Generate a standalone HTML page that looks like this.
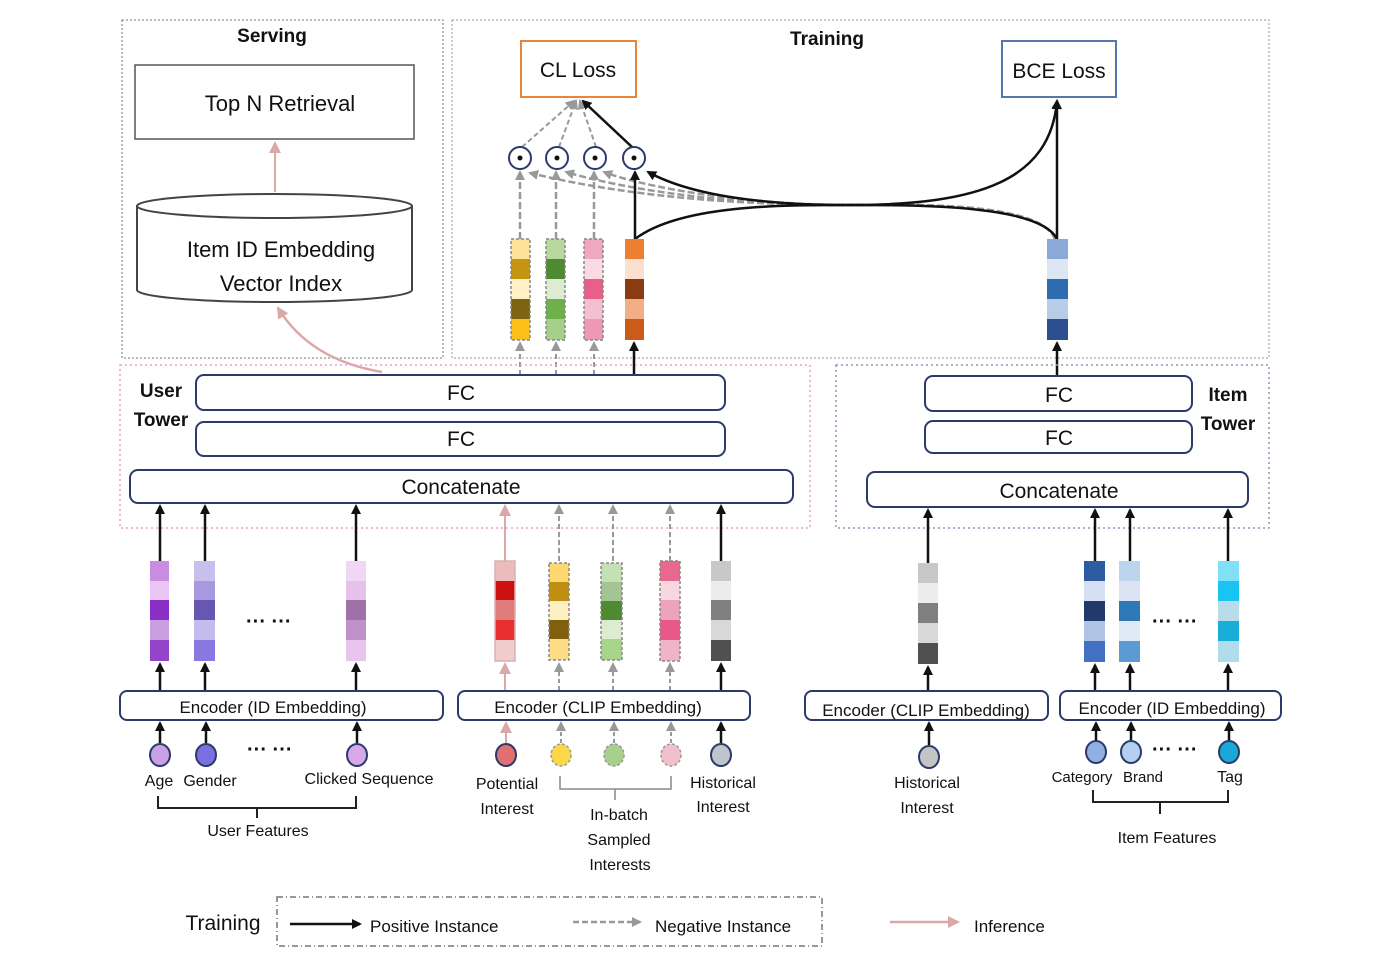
<!DOCTYPE html>
<html><head><meta charset="utf-8"><style>
body{margin:0;background:#fff}
svg{display:block}
text{font-family:"Liberation Sans",sans-serif;fill:#111}
</style></head><body>
<svg width="1394" height="972" viewBox="0 0 1394 972" xmlns="http://www.w3.org/2000/svg">
<defs>
<marker id="ab" markerWidth="10" markerHeight="10" refX="8" refY="5" orient="auto" markerUnits="userSpaceOnUse"><path d="M0,0 L10,5 L0,10 Z" fill="#111"/></marker>
<marker id="ag" markerWidth="10" markerHeight="10" refX="8" refY="5" orient="auto" markerUnits="userSpaceOnUse"><path d="M0,0 L10,5 L0,10 Z" fill="#999"/></marker>
<marker id="ap" markerWidth="12" markerHeight="12" refX="10" refY="6" orient="auto" markerUnits="userSpaceOnUse"><path d="M0,0 L12,6 L0,12 Z" fill="#dba8a8"/></marker>
</defs>

<rect x="122" y="20" width="321" height="338" fill="none" stroke="#777" stroke-dasharray="2,2"/>
<rect x="452" y="20" width="817" height="338" fill="none" stroke="#999" stroke-dasharray="2,2"/>
<text x="272" y="42" font-size="19" font-weight="bold" text-anchor="middle">Serving</text>
<text x="827" y="45" font-size="19" font-weight="bold" text-anchor="middle">Training</text>

<rect x="135" y="65" width="279" height="74" fill="#fff" stroke="#555" stroke-width="1.5"/>
<text x="280" y="111" font-size="22" text-anchor="middle">Top N Retrieval</text>
<line x1="275" y1="192" x2="275" y2="143" stroke="#dba8a8" stroke-width="2" marker-end="url(#ap)"/>

<path d="M137,206 L137,290 A137,12 0 0 0 412,290 L412,206" fill="#fff" stroke="#444" stroke-width="2"/>
<ellipse cx="274.5" cy="206" rx="137.5" ry="12" fill="#fff" stroke="#444" stroke-width="2"/>
<text x="281" y="257" font-size="22" text-anchor="middle">Item ID Embedding</text>
<text x="281" y="291" font-size="22" text-anchor="middle">Vector Index</text>
<path d="M382,372 Q310,360 278,308" fill="none" stroke="#dba8a8" stroke-width="2.5" marker-end="url(#ap)"/>

<rect x="521" y="41" width="115" height="56" fill="#fff" stroke="#e8853a" stroke-width="2"/>
<text x="578" y="77" font-size="21" text-anchor="middle">CL Loss</text>
<rect x="1002" y="41" width="114" height="56" fill="#fff" stroke="#5577aa" stroke-width="2"/>
<text x="1059" y="78" font-size="21" text-anchor="middle">BCE Loss</text>

<g fill="none" stroke="#999" stroke-width="2" stroke-dasharray="5,3">
<line x1="522" y1="147" x2="574" y2="101" marker-end="url(#ag)"/>
<line x1="559" y1="147" x2="576" y2="101" marker-end="url(#ag)"/>
<line x1="596" y1="147" x2="580" y2="101" marker-end="url(#ag)"/>
</g>
<line x1="632" y1="147" x2="583" y2="101" stroke="#111" stroke-width="2.5" marker-end="url(#ab)"/>

<g fill="none" stroke="#999" stroke-width="2.5" stroke-dasharray="7,3">
<path d="M1055,239 C1040,200 900,205 850,205 C700,205 600,190 530,173" marker-end="url(#ag)"/>
<path d="M1055,239 C1040,200 900,205 850,205 C720,205 620,188 566,172" marker-end="url(#ag)"/>
<path d="M1055,239 C1040,200 900,205 850,205 C740,205 640,186 604,172" marker-end="url(#ag)"/>
</g>
<path d="M635,239 C680,205 780,205 850,205 C980,205 1050,180 1057,101" fill="none" stroke="#111" stroke-width="2.5" marker-end="url(#ab)"/>
<path d="M1057,239 C1040,205 920,205 850,205 C760,205 690,195 648,172" fill="none" stroke="#111" stroke-width="2.5" marker-end="url(#ab)"/>
<line x1="1057" y1="239" x2="1057" y2="101" stroke="#111" stroke-width="2.5" marker-end="url(#ab)"/>
<line x1="635" y1="239" x2="635" y2="172" stroke="#111" stroke-width="2.5" marker-end="url(#ab)"/>
<g fill="none" stroke="#999" stroke-width="2.5" stroke-dasharray="7,3">
<line x1="520" y1="239" x2="520" y2="172" marker-end="url(#ag)"/>
<line x1="556" y1="239" x2="556" y2="172" marker-end="url(#ag)"/>
<line x1="594" y1="239" x2="594" y2="172" marker-end="url(#ag)"/>
</g>
<g fill="#fff" stroke="#2a3a6a" stroke-width="2">
<circle cx="520" cy="158" r="11"/><circle cx="557" cy="158" r="11"/><circle cx="595" cy="158" r="11"/><circle cx="634" cy="158" r="11"/>
</g>
<g fill="#111"><circle cx="520" cy="158" r="2.5"/><circle cx="557" cy="158" r="2.5"/><circle cx="595" cy="158" r="2.5"/><circle cx="634" cy="158" r="2.5"/></g>

<g>
<rect x="511" y="239" width="19" height="20" fill="#fde29a"/><rect x="511" y="259" width="19" height="20" fill="#c49412"/><rect x="511" y="279" width="19" height="20" fill="#fff0c8"/><rect x="511" y="299" width="19" height="20" fill="#7c6410"/><rect x="511" y="319" width="19" height="21" fill="#fcc018"/>
<rect x="511" y="239" width="19" height="101" fill="none" stroke="#888" stroke-dasharray="3,2" stroke-width="1.5"/>
<rect x="546" y="239" width="19" height="20" fill="#b8d8a0"/><rect x="546" y="259" width="19" height="20" fill="#4d8a32"/><rect x="546" y="279" width="19" height="20" fill="#dcecd0"/><rect x="546" y="299" width="19" height="20" fill="#6eb04a"/><rect x="546" y="319" width="19" height="21" fill="#a6d08a"/>
<rect x="546" y="239" width="19" height="101" fill="none" stroke="#888" stroke-dasharray="3,2" stroke-width="1.5"/>
<rect x="584" y="239" width="19" height="20" fill="#f0a8c0"/><rect x="584" y="259" width="19" height="20" fill="#fadbe4"/><rect x="584" y="279" width="19" height="20" fill="#e8608a"/><rect x="584" y="299" width="19" height="20" fill="#f2c0d0"/><rect x="584" y="319" width="19" height="21" fill="#ee98b4"/>
<rect x="584" y="239" width="19" height="101" fill="none" stroke="#888" stroke-dasharray="3,2" stroke-width="1.5"/>
<rect x="625" y="239" width="19" height="20" fill="#ee7e30"/><rect x="625" y="259" width="19" height="20" fill="#fbe0d0"/><rect x="625" y="279" width="19" height="20" fill="#8a3c10"/><rect x="625" y="299" width="19" height="20" fill="#f2ae84"/><rect x="625" y="319" width="19" height="21" fill="#cc5a18"/>
<rect x="1047" y="239" width="21" height="20" fill="#8aa8d8"/><rect x="1047" y="259" width="21" height="20" fill="#dce6f4"/><rect x="1047" y="279" width="21" height="20" fill="#2e6cb0"/><rect x="1047" y="299" width="21" height="20" fill="#b8cce8"/><rect x="1047" y="319" width="21" height="21" fill="#2c4e8e"/>
</g>
<g fill="none" stroke="#999" stroke-width="2" stroke-dasharray="5,3">
<line x1="520" y1="375" x2="520" y2="343" marker-end="url(#ag)"/>
<line x1="556" y1="375" x2="556" y2="343" marker-end="url(#ag)"/>
<line x1="594" y1="375" x2="594" y2="343" marker-end="url(#ag)"/>
</g>
<line x1="634" y1="375" x2="634" y2="343" stroke="#111" stroke-width="2.5" marker-end="url(#ab)"/>
<line x1="1057" y1="376" x2="1057" y2="343" stroke="#111" stroke-width="2.5" marker-end="url(#ab)"/>

<rect x="120" y="365" width="690" height="163" fill="none" stroke="#e8a0d0" stroke-dasharray="2,3" stroke-width="1.5"/>
<rect x="836" y="365" width="433" height="163" fill="none" stroke="#8899bb" stroke-dasharray="2,3" stroke-width="1.5"/>
<text x="161" y="397" font-size="19" font-weight="bold" text-anchor="middle">User</text>
<text x="161" y="426" font-size="19" font-weight="bold" text-anchor="middle">Tower</text>
<text x="1228" y="401" font-size="19" font-weight="bold" text-anchor="middle">Item</text>
<text x="1228" y="430" font-size="19" font-weight="bold" text-anchor="middle">Tower</text>
<g fill="#fff" stroke="#2a3a6a" stroke-width="2">
<rect x="196" y="375" width="529" height="35" rx="8"/>
<rect x="196" y="422" width="529" height="34" rx="8"/>
<rect x="130" y="470" width="663" height="33" rx="8"/>
<rect x="925" y="376" width="267" height="35" rx="8"/>
<rect x="925" y="421" width="267" height="32" rx="8"/>
<rect x="867" y="472" width="381" height="35" rx="8"/>
</g>
<g font-size="21" text-anchor="middle">
<text x="461" y="400">FC</text><text x="461" y="446">FC</text><text x="461" y="494">Concatenate</text>
<text x="1059" y="402">FC</text><text x="1059" y="445">FC</text><text x="1059" y="498">Concatenate</text>
</g>

<g stroke="#111" stroke-width="2.5" marker-end="url(#ab)">
<line x1="160" y1="561" x2="160" y2="506"/><line x1="205" y1="561" x2="205" y2="506"/><line x1="356" y1="561" x2="356" y2="506"/><line x1="721" y1="561" x2="721" y2="506"/>
<line x1="928" y1="563" x2="928" y2="510"/><line x1="1095" y1="563" x2="1095" y2="510"/><line x1="1130" y1="563" x2="1130" y2="510"/><line x1="1228" y1="563" x2="1228" y2="510"/>
</g>
<line x1="505" y1="561" x2="505" y2="506" stroke="#dba8a8" stroke-width="2" marker-end="url(#ap)"/>
<g fill="none" stroke="#999" stroke-width="2" stroke-dasharray="5,3">
<line x1="559" y1="561" x2="559" y2="506" marker-end="url(#ag)"/><line x1="613" y1="561" x2="613" y2="506" marker-end="url(#ag)"/><line x1="670" y1="561" x2="670" y2="506" marker-end="url(#ag)"/>
</g>

<g>
<rect x="150" y="561" width="19" height="20" fill="#c88ce0"/><rect x="150" y="581" width="19" height="19" fill="#eac4f2"/><rect x="150" y="600" width="19" height="20" fill="#8a2ec8"/><rect x="150" y="620" width="19" height="20" fill="#c8a0e0"/><rect x="150" y="640" width="19" height="21" fill="#9444c8"/>
<rect x="194" y="561" width="21" height="20" fill="#c8c0ec"/><rect x="194" y="581" width="21" height="19" fill="#a898e0"/><rect x="194" y="600" width="21" height="20" fill="#6658b0"/><rect x="194" y="620" width="21" height="20" fill="#c4bcee"/><rect x="194" y="640" width="21" height="21" fill="#8878e0"/>
<rect x="346" y="561" width="20" height="20" fill="#f0d8f4"/><rect x="346" y="581" width="20" height="19" fill="#e8c0ec"/><rect x="346" y="600" width="20" height="20" fill="#a070a8"/><rect x="346" y="620" width="20" height="20" fill="#c090c8"/><rect x="346" y="640" width="20" height="21" fill="#e8c4ee"/>
<rect x="495" y="561" width="20" height="20" fill="#ecbcbc"/><rect x="495" y="581" width="20" height="19" fill="#cc1010"/><rect x="495" y="600" width="20" height="20" fill="#e07c7c"/><rect x="495" y="620" width="20" height="20" fill="#e83030"/><rect x="495" y="640" width="20" height="21" fill="#f0cccc"/>
<rect x="495" y="561" width="20" height="100" fill="none" stroke="#dbb0b0" stroke-width="1.5"/>
<rect x="549" y="563" width="20" height="19" fill="#fcd870"/><rect x="549" y="582" width="20" height="19" fill="#c08e10"/><rect x="549" y="601" width="20" height="19" fill="#fff0c4"/><rect x="549" y="620" width="20" height="19" fill="#80600c"/><rect x="549" y="639" width="20" height="21" fill="#fcdc84"/>
<rect x="549" y="563" width="20" height="97" fill="none" stroke="#888" stroke-dasharray="3,2" stroke-width="1.5"/>
<rect x="601" y="563" width="21" height="19" fill="#c4e0b4"/><rect x="601" y="582" width="21" height="19" fill="#a4c494"/><rect x="601" y="601" width="21" height="19" fill="#4e8a32"/><rect x="601" y="620" width="21" height="19" fill="#dcecd0"/><rect x="601" y="639" width="21" height="21" fill="#a8d48c"/>
<rect x="601" y="563" width="21" height="97" fill="none" stroke="#888" stroke-dasharray="3,2" stroke-width="1.5"/>
<rect x="660" y="561" width="20" height="20" fill="#e86890"/><rect x="660" y="581" width="20" height="19" fill="#f8d8e0"/><rect x="660" y="600" width="20" height="20" fill="#eca4bc"/><rect x="660" y="620" width="20" height="20" fill="#e85888"/><rect x="660" y="640" width="20" height="21" fill="#f0b4c8"/>
<rect x="660" y="561" width="20" height="100" fill="none" stroke="#888" stroke-dasharray="3,2" stroke-width="1.5"/>
<rect x="711" y="561" width="20" height="20" fill="#c8c8c8"/><rect x="711" y="581" width="20" height="19" fill="#ececec"/><rect x="711" y="600" width="20" height="20" fill="#808080"/><rect x="711" y="620" width="20" height="20" fill="#d8d8d8"/><rect x="711" y="640" width="20" height="21" fill="#505050"/>
<rect x="918" y="563" width="20" height="20" fill="#c8c8c8"/><rect x="918" y="583" width="20" height="20" fill="#ececec"/><rect x="918" y="603" width="20" height="20" fill="#808080"/><rect x="918" y="623" width="20" height="20" fill="#d8d8d8"/><rect x="918" y="643" width="20" height="21" fill="#505050"/>
<rect x="1084" y="561" width="21" height="20" fill="#2e5ca0"/><rect x="1084" y="581" width="21" height="20" fill="#d4e0f2"/><rect x="1084" y="601" width="21" height="20" fill="#223a6a"/><rect x="1084" y="621" width="21" height="20" fill="#b0c4e6"/><rect x="1084" y="641" width="21" height="21" fill="#4470c4"/>
<rect x="1119" y="561" width="21" height="20" fill="#bcd4ec"/><rect x="1119" y="581" width="21" height="20" fill="#dce4f4"/><rect x="1119" y="601" width="21" height="20" fill="#2e78b8"/><rect x="1119" y="621" width="21" height="20" fill="#e0eaf6"/><rect x="1119" y="641" width="21" height="21" fill="#5c9ad4"/>
<rect x="1218" y="561" width="21" height="20" fill="#80e0f8"/><rect x="1218" y="581" width="21" height="20" fill="#18c4f4"/><rect x="1218" y="601" width="21" height="20" fill="#b8dcea"/><rect x="1218" y="621" width="21" height="20" fill="#18aed8"/><rect x="1218" y="641" width="21" height="21" fill="#b0dcec"/>
</g>
<g font-size="20" font-weight="bold"><text x="246" y="628">··· ···</text><text x="1152" y="628">··· ···</text></g>

<g stroke="#111" stroke-width="2.5" marker-end="url(#ab)">
<line x1="160" y1="690" x2="160" y2="664"/><line x1="205" y1="690" x2="205" y2="664"/><line x1="356" y1="690" x2="356" y2="664"/><line x1="721" y1="690" x2="721" y2="664"/>
<line x1="928" y1="690" x2="928" y2="667"/><line x1="1095" y1="690" x2="1095" y2="665"/><line x1="1130" y1="690" x2="1130" y2="665"/><line x1="1228" y1="690" x2="1228" y2="665"/>
<line x1="160" y1="743" x2="160" y2="723"/><line x1="206" y1="743" x2="206" y2="723"/><line x1="357" y1="743" x2="357" y2="723"/><line x1="721" y1="743" x2="721" y2="723"/>
<line x1="929" y1="745" x2="929" y2="723"/><line x1="1096" y1="741" x2="1096" y2="723"/><line x1="1131" y1="741" x2="1131" y2="723"/><line x1="1229" y1="741" x2="1229" y2="723"/>
</g>
<line x1="505" y1="690" x2="505" y2="664" stroke="#dba8a8" stroke-width="2" marker-end="url(#ap)"/>
<line x1="506" y1="743" x2="506" y2="723" stroke="#dba8a8" stroke-width="2" marker-end="url(#ap)"/>
<g fill="none" stroke="#999" stroke-width="2" stroke-dasharray="4,3">
<line x1="559" y1="690" x2="559" y2="664" marker-end="url(#ag)"/><line x1="613" y1="690" x2="613" y2="664" marker-end="url(#ag)"/><line x1="670" y1="690" x2="670" y2="664" marker-end="url(#ag)"/>
<line x1="561" y1="743" x2="561" y2="723" marker-end="url(#ag)"/><line x1="614" y1="743" x2="614" y2="723" marker-end="url(#ag)"/><line x1="671" y1="743" x2="671" y2="723" marker-end="url(#ag)"/>
</g>

<g fill="#fff" stroke="#2a3a6a" stroke-width="2">
<rect x="120" y="691" width="323" height="29" rx="7"/>
<rect x="458" y="691" width="292" height="29" rx="7"/>
<rect x="805" y="691" width="243" height="29" rx="7"/>
<rect x="1060" y="691" width="221" height="29" rx="7"/>
</g>
<g font-size="17" text-anchor="middle">
<text x="273" y="713">Encoder (ID Embedding)</text>
<text x="598" y="713">Encoder (CLIP Embedding)</text>
<text x="926" y="716">Encoder (CLIP Embedding)</text>
<text x="1172" y="714">Encoder (ID Embedding)</text>
</g>

<g stroke="#2a3a6a" stroke-width="2">
<ellipse cx="160" cy="755" rx="10" ry="11" fill="#c8a0e4"/>
<ellipse cx="206" cy="755" rx="10" ry="11" fill="#7c70e0"/>
<ellipse cx="357" cy="755" rx="10" ry="11" fill="#d8a8e8"/>
<ellipse cx="506" cy="755" rx="10" ry="11" fill="#e07070"/>
<ellipse cx="721" cy="755" rx="10" ry="11" fill="#c0c4cc"/>
<ellipse cx="929" cy="757" rx="10" ry="11" fill="#c4c4c4"/>
<ellipse cx="1096" cy="752" rx="10" ry="11" fill="#90b0e4"/>
<ellipse cx="1131" cy="752" rx="10" ry="11" fill="#b4d0f0"/>
<ellipse cx="1229" cy="752" rx="10" ry="11" fill="#1aa8d8"/>
</g>
<g stroke="#999" stroke-width="1.5" stroke-dasharray="3,2">
<ellipse cx="561" cy="755" rx="10" ry="11" fill="#fcd848"/>
<ellipse cx="614" cy="755" rx="10" ry="11" fill="#a8d08c"/>
<ellipse cx="671" cy="755" rx="10" ry="11" fill="#f2c0cc"/>
</g>
<g font-size="20" font-weight="bold"><text x="247" y="756">··· ···</text><text x="1152" y="756">··· ···</text></g>

<g font-size="16" text-anchor="middle">
<text x="159" y="786">Age</text><text x="210" y="786">Gender</text><text x="369" y="784">Clicked Sequence</text>
<text x="258" y="836">User Features</text>
<text x="507" y="789">Potential</text><text x="507" y="814">Interest</text>
<text x="723" y="788">Historical</text><text x="723" y="812">Interest</text>
<text x="619" y="820">In-batch</text><text x="619" y="845">Sampled</text><text x="620" y="870">Interests</text>
<text x="927" y="788">Historical</text><text x="927" y="813">Interest</text>
<text x="1082" y="782" font-size="15">Category</text><text x="1143" y="782" font-size="15">Brand</text><text x="1230" y="782">Tag</text>
<text x="1167" y="843">Item Features</text>
</g>
<g fill="none" stroke="#222" stroke-width="2">
<path d="M158,796 V808 H356 V796 M257,808 V818"/>
<path d="M1093,790 V802 H1228 V790 M1160,802 V814"/>
</g>
<path d="M560,776 V789 H671 V776 M615,789 V800" fill="none" stroke="#888" stroke-width="1.5"/>

<rect x="277" y="897" width="545" height="49" fill="none" stroke="#777" stroke-width="1.5" stroke-dasharray="6,3,1,3"/>
<text x="223" y="930" font-size="21" text-anchor="middle">Training</text>
<line x1="290" y1="924" x2="360" y2="924" stroke="#111" stroke-width="2.5" marker-end="url(#ab)"/>
<text x="370" y="932" font-size="17">Positive Instance</text>
<line x1="573" y1="922" x2="640" y2="922" stroke="#999" stroke-width="2.5" stroke-dasharray="6,3" marker-end="url(#ag)"/>
<text x="655" y="932" font-size="17">Negative Instance</text>
<line x1="890" y1="922" x2="958" y2="922" stroke="#dba8a8" stroke-width="2.5" marker-end="url(#ap)"/>
<text x="974" y="932" font-size="17">Inference</text>
</svg>
</body></html>
